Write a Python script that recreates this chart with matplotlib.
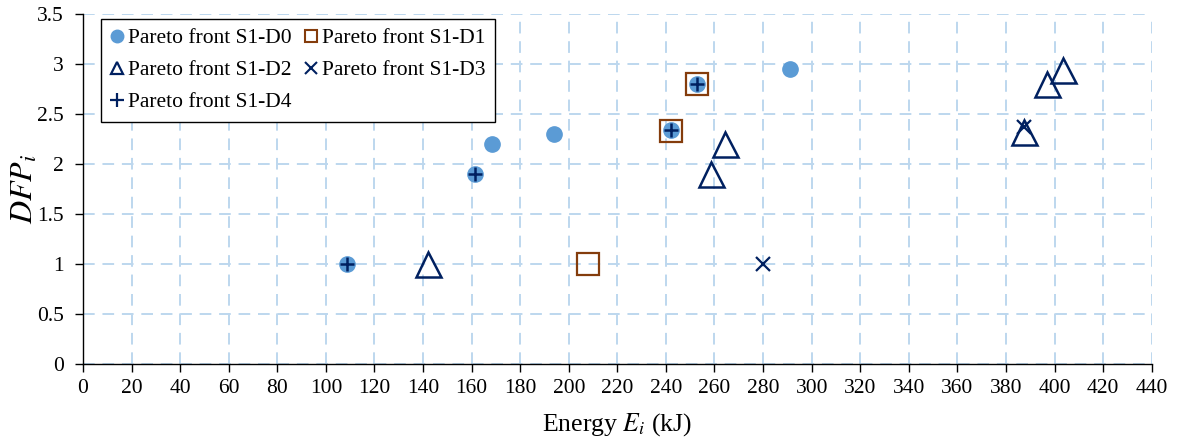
import matplotlib.pyplot as plt
from matplotlib.lines import Line2D

plt.rcParams['font.family'] = ['Liberation Serif', 'DejaVu Serif']
plt.rcParams['mathtext.fontset'] = 'stix'

# Pareto front points
d0_x = [108.5, 161.5, 168.5, 194, 242, 253, 291]
d0_y = [1.0, 1.9, 2.2, 2.3, 2.34, 2.8, 2.95]

d1_x = [208, 242, 253]
d1_y = [1.0, 2.33, 2.8]

d2_x = [142, 258.5, 264.5, 387.5, 397, 403.5]
d2_y = [1.0, 1.9, 2.2, 2.32, 2.8, 2.94]

d3_x = [280, 387.5]
d3_y = [1.0, 2.37]

d4_x = [108.5, 161.5, 242, 253]
d4_y = [1.0, 1.9, 2.34, 2.8]

labels = ['Pareto front S1-D0', 'Pareto front S1-D1', 'Pareto front S1-D2',
          'Pareto front S1-D3', 'Pareto front S1-D4']

c_blue = '#5B9BD5'
c_brown = '#843C0C'
c_navy = '#002060'

fig = plt.figure(figsize=(11.77, 4.46), dpi=100)
ax = fig.add_axes([0.0705, 0.184, 0.9080, 0.785])

ax.plot(d0_x, d0_y, 'o', ms=11, color=c_blue, mec=c_blue, zorder=3)
ax.plot(d1_x, d1_y, 's', ms=16, mfc='none', mec=c_brown, mew=1.6, zorder=3)
ax.plot(d2_x, d2_y, '^', ms=18, mfc='none', mec=c_navy, mew=1.8, zorder=3)
ax.plot(d3_x, d3_y, 'x', ms=10, color=c_navy, mew=1.6, zorder=4)
ax.plot(d4_x, d4_y, '+', ms=10, color=c_navy, mew=1.8, zorder=4)

ax.set_xlim(0, 440)
ax.set_ylim(0, 3.5)
ax.set_xticks(range(0, 441, 20))
ax.set_yticks([0, 0.5, 1, 1.5, 2, 2.5, 3, 3.5])
ax.set_yticklabels(['0', '0.5', '1', '1.5', '2', '2.5', '3', '3.5'])
ax.tick_params(labelsize=15.5, direction='out', length=6, width=1)
ax.tick_params(axis='y', pad=8)
ax.tick_params(axis='x', pad=5)

ax.grid(True, color='#BDD7EE', linestyle=(0, (6, 4)), linewidth=1.4)
ax.set_axisbelow(True)
for s in ['top', 'right']:
    ax.spines[s].set_visible(False)
for s in ['left', 'bottom']:
    ax.spines[s].set_color('black')
    ax.spines[s].set_linewidth(1)

ax.set_xlabel(r'Energy $\mathit{E}_{i}$ (kJ)', fontsize=18.5, labelpad=9)
ax.set_ylabel(r'$DFP_i$', fontsize=23, labelpad=-2)

# legend with small markers, filled row by row like the original
h0 = Line2D([], [], ls='none', marker='o', ms=9, color=c_blue)
h1 = Line2D([], [], ls='none', marker='s', ms=9, mfc='none', mec=c_brown, mew=1.5)
h2 = Line2D([], [], ls='none', marker='^', ms=9, mfc='none', mec=c_navy, mew=1.6)
h3 = Line2D([], [], ls='none', marker='x', ms=8, color=c_navy, mew=1.5)
h4 = Line2D([], [], ls='none', marker='+', ms=10, color=c_navy, mew=1.6)
leg = ax.legend([h0, h2, h4, h1, h3],
                [labels[0], labels[2], labels[4], labels[1], labels[3]],
                ncol=2, loc='upper left', bbox_to_anchor=(0.0169, 0.986),
                borderaxespad=0, fontsize=15.5, frameon=True, fancybox=False,
                framealpha=1, edgecolor='black', handlelength=0.6,
                handletextpad=0.2, columnspacing=0.6, labelspacing=0.55,
                borderpad=0.45)
leg.get_frame().set_linewidth(1)

fig.savefig('out.png', dpi=100)
